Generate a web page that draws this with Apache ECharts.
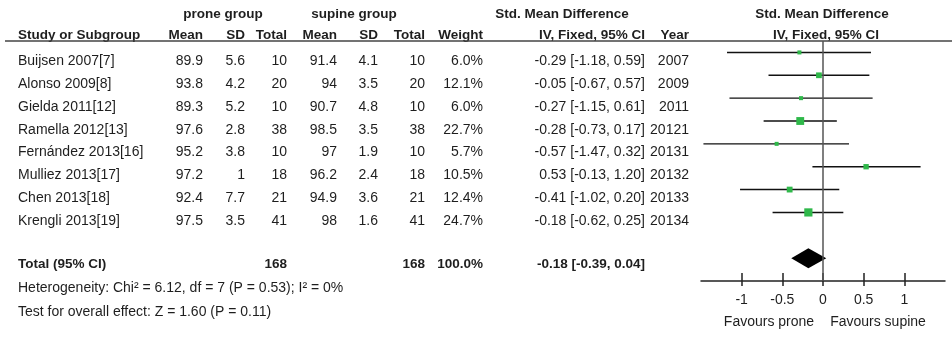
<!DOCTYPE html>
<html>
<head>
<meta charset="utf-8">
<script src="https://cdn.jsdelivr.net/npm/echarts@6/dist/echarts.min.js"></script>
<style>
html,body{margin:0;padding:0;background:#fff;}
#chart{width:952px;height:340px;}
</style>
</head>
<body>
<div id="chart"></div>
<script>
// ---------- data ----------
const studies = ['Buijsen 2007[7]','Alonso 2009[8]','Gielda 2011[12]','Ramella 2012[13]','Fernández 2013[16]','Mulliez 2013[17]','Chen 2013[18]','Krengli 2013[19]'];
const proneMean = ['89.9','93.8','89.3','97.6','95.2','97.2','92.4','97.5'];
const proneSD   = ['5.6','4.2','5.2','2.8','3.8','1','7.7','3.5'];
const proneN    = [10,20,10,38,10,18,21,41];
const supineMean= ['91.4','94','90.7','98.5','97','96.2','94.9','98'];
const supineSD  = ['4.1','3.5','4.8','3.5','1.9','2.4','3.6','1.6'];
const supineN   = [10,20,10,38,10,18,21,41];
const weights   = [6.0,12.1,6.0,22.7,5.7,10.5,12.4,24.7];
const smd       = [-0.29,-0.05,-0.27,-0.28,-0.57,0.53,-0.41,-0.18];
const ciLow     = [-1.18,-0.67,-1.15,-0.73,-1.47,-0.13,-1.02,-0.62];
const ciHigh    = [0.59,0.57,0.61,0.17,0.32,1.20,0.20,0.25];
const years     = ['2007','2009','2011','20121','20131','20132','20133','20134'];
const total     = {proneN:168, supineN:168, weight:'100.0%', smd:-0.18, low:-0.39, high:0.04};
const heterogeneity = 'Heterogeneity: Chi² = 6.12, df = 7 (P = 0.53); I² = 0%';
const overallTest   = 'Test for overall effect: Z = 1.60 (P = 0.11)';
const xTicks = [-1,-0.5,0,0.5,1];

// ---------- layout / style ----------
const FONT = '"Liberation Sans", Arial, Helvetica, sans-serif';
const TXT = '#1e1e1e';
const GREEN = '#2fb84a';
const REG = 14, BOLD = 13.5;
const rowY0 = 61, rowH = 22.9;
const cols = {pm:203, psd:245, pn:287, sm:337, ssd:378, sn:425, w:483, ci:645, yr:689};

function fmt(v){ return v.toFixed(2); }
function ciText(e,l,h){ return fmt(e)+' ['+fmt(l)+', '+fmt(h)+']'; }

const g = [];
function txt(s, x, y, align, bold){
  g.push({type:'text', x:x, y:y, silent:true, style:{text:String(s), x:0, y:0, align:align||'left', verticalAlign:'middle',
    font:(bold?'bold ':'')+(bold?BOLD:REG)+'px '+FONT, fill:TXT}});
}
// group headers
txt('prone group',223,14,'center',true);
txt('supine group',354,14,'center',true);
txt('Std. Mean Difference',562,14,'center',true);
txt('Std. Mean Difference',822,14,'center',true);
// column headers
txt('Study or Subgroup',18,35,'left',true);
txt('Mean',cols.pm,35,'right',true);
txt('SD',cols.psd,35,'right',true);
txt('Total',cols.pn,35,'right',true);
txt('Mean',cols.sm,35,'right',true);
txt('SD',cols.ssd,35,'right',true);
txt('Total',cols.sn,35,'right',true);
txt('Weight',cols.w,35,'right',true);
txt('IV, Fixed, 95% CI',cols.ci,35,'right',true);
txt('Year',cols.yr,35,'right',true);
txt('IV, Fixed, 95% CI',826,35,'center',true);
g.push({type:'line', silent:true, shape:{x1:5,y1:41,x2:952,y2:41}, style:{stroke:'#444', lineWidth:1.5}});
// study rows
studies.forEach(function(s,i){
  const y = rowY0 + i*rowH;
  txt(s,18,y,'left');
  txt(proneMean[i],cols.pm,y,'right');
  txt(proneSD[i],cols.psd,y,'right');
  txt(proneN[i],cols.pn,y,'right');
  txt(supineMean[i],cols.sm,y,'right');
  txt(supineSD[i],cols.ssd,y,'right');
  txt(supineN[i],cols.sn,y,'right');
  txt(weights[i].toFixed(1)+'%',cols.w,y,'right');
  txt(ciText(smd[i],ciLow[i],ciHigh[i]),cols.ci,y,'right');
  txt(years[i],cols.yr,y,'right');
});
// total rows
txt('Total (95% CI)',18,264,'left',true);
txt(total.proneN,cols.pn,264,'right',true);
txt(total.supineN,cols.sn,264,'right',true);
txt(total.weight,cols.w,264,'right',true);
txt(ciText(total.smd,total.low,total.high),cols.ci,264,'right',true);
txt(heterogeneity,18,288.5,'left');
txt(overallTest,18,312,'left');
txt('Favours prone',769,322,'center');
txt('Favours supine',878,322,'center');

// forest data
const studyData = studies.map(function(s,i){ return [smd[i], i+1, ciLow[i], ciHigh[i], weights[i]]; });
const diamondData = [[total.smd, studies.length+2, total.low, total.high]];

const chart = echarts.init(document.getElementById('chart'), null, {renderer:'canvas'});
chart.setOption({
  animation:false,
  backgroundColor:'#fff',
  grid:{left:701, width:244, top:41, height:240},
  xAxis:[{
    type:'value', min:-1.5, max:1.5, position:'bottom',
    axisLine:{show:true, onZero:false, lineStyle:{color:'#222', width:1.5}},
    axisTick:{show:true, inside:false, length:5, customValues:xTicks, lineStyle:{color:'#222', width:1.5}},
    axisLabel:{show:true, customValues:xTicks, margin:12, fontSize:14, fontFamily:FONT, color:TXT,
      formatter:function(v){ return String(v); }},
    splitLine:{show:false}
  },{
    type:'value', min:-1.5, max:1.5, position:'bottom', offset:0,
    axisLine:{show:false, onZero:false},
    axisTick:{show:true, inside:true, length:8, customValues:xTicks, lineStyle:{color:'#222', width:1.5}},
    axisLabel:{show:false},
    splitLine:{show:false}
  }],
  yAxis:{type:'value', min:0.5, max:11, inverse:true, show:false},
  series:[{
    type:'custom', xAxisIndex:0, yAxisIndex:0,
    data:studyData,
    encode:{x:0, y:1},
    renderItem:function(params, api){
      const c = api.coord([api.value(0), api.value(1)]);
      const l = api.coord([api.value(2), api.value(1)]);
      const h = api.coord([api.value(3), api.value(1)]);
      const s = Math.max(4, 1.65*Math.sqrt(api.value(4)));
      return {type:'group', children:[
        {type:'line', shape:{x1:l[0], y1:c[1], x2:h[0], y2:c[1]}, style:{stroke:'#111', lineWidth:1.4}},
        {type:'rect', shape:{x:c[0]-s/2, y:c[1]-s/2, width:s, height:s}, style:{fill:GREEN}}
      ]};
    },
    markLine:{silent:true, symbol:['none','none'], label:{show:false},
      lineStyle:{color:'#555', width:1.5, type:'solid'}, data:[{xAxis:0}]},
    z:3
  },{
    type:'custom', xAxisIndex:0, yAxisIndex:0,
    data:diamondData,
    encode:{x:0, y:1},
    renderItem:function(params, api){
      const c = api.coord([api.value(0), api.value(1)]);
      const l = api.coord([api.value(2), api.value(1)]);
      const h = api.coord([api.value(3), api.value(1)]);
      return {type:'polygon', shape:{points:[[l[0],c[1]],[c[0],c[1]-10],[h[0],c[1]],[c[0],c[1]+10]]}, style:{fill:'#000'}};
    },
    z:4
  }],
  graphic:g
});
</script>
</body>
</html>
